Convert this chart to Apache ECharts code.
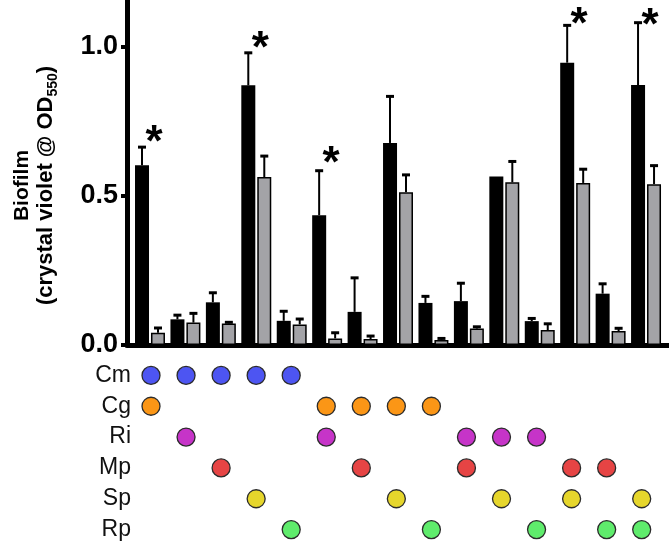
<!DOCTYPE html>
<html>
<head>
<meta charset="utf-8">
<script src="https://cdn.jsdelivr.net/npm/echarts@6/dist/echarts.min.js"></script>
<style>
  html, body { margin: 0; padding: 0; background: #fff; }
  #biofilm-chart { width: 669px; height: 543px; }
</style>
</head>
<body>
<div id="biofilm-chart"></div>
<script>
var strains = ['Cm', 'Cg', 'Ri', 'Mp', 'Sp', 'Rp'];
var strainColors = ['#4d55f2', '#fb9616', '#c634c8', '#e64444', '#e6d62c', '#5fec6c'];

// every co-culture is a pair of strains (index into strains)
var pairFirst  = [0, 0, 0, 0, 0, 1, 1, 1, 1, 2, 2, 2, 3, 3, 4];
var pairSecond = [1, 2, 3, 4, 5, 2, 3, 4, 5, 3, 4, 5, 4, 5, 5];

var blackMean = [0.602, 0.086, 0.143, 0.870, 0.081, 0.435, 0.111, 0.677, 0.141, 0.147, 0.565, 0.080, 0.946, 0.172, 0.871];
var blackSd   = [0.061, 0.014, 0.032, 0.109, 0.032, 0.149, 0.114, 0.156, 0.022, 0.060, 0.000, 0.009, 0.125, 0.033, 0.209];
var greyMean  = [0.041, 0.075, 0.072, 0.563, 0.069, 0.022, 0.020, 0.512, 0.017, 0.055, 0.545, 0.050, 0.543, 0.047, 0.539];
var greySd    = [0.016, 0.031, 0.004, 0.070, 0.018, 0.019, 0.010, 0.058, 0.005, 0.006, 0.070, 0.021, 0.046, 0.009, 0.062];

var starGroups = [0, 3, 5, 12, 14];
var starY      = [0.714, 1.028, 0.643, 1.109, 1.105];

var yTicks = [0, 0.5, 1.0];

var FONT = 'Liberation Sans';

var chartDom = document.getElementById('biofilm-chart');
var myChart = echarts.init(chartDom, null, {renderer: 'canvas'});

function errorBar(params, api) {
    var sd = api.value(2);
    if (sd <= 0) return;
    var side = api.value(3);
    var base = api.coord([api.value(0), api.value(1)]);
    var tip = api.coord([api.value(0), api.value(1) + sd]);
    var x = base[0] + side * 8;
    return {
        type: 'group',
        children: [
            {type: 'line', shape: {x1: x, y1: base[1], x2: x, y2: tip[1]}, style: {stroke: '#000', lineWidth: 2}},
            {type: 'line', shape: {x1: x - 4, y1: tip[1], x2: x + 4, y2: tip[1]}, style: {stroke: '#000', lineWidth: 3}}
        ]
    };
}

function star(params, api) {
    var pt = api.coord([api.value(0), api.value(1)]);
    return {
        type: 'text',
        x: pt[0] + 4,
        y: pt[1] + 12,
        style: {
            text: '*', fill: '#000',
            font: 'bold 44px "' + FONT + '"',
            textAlign: 'center', textVerticalAlign: 'middle'
        }
    };
}

var errData = [];
for (var i = 0; i < blackMean.length; i++) {
    errData.push([i, blackMean[i], blackSd[i], -1]);
    errData.push([i, greyMean[i], greySd[i], 1]);
}

var dotSeries = strains.map(function (name, s) {
    var pts = [];
    for (var i = 0; i < pairFirst.length; i++) {
        if (pairFirst[i] === s || pairSecond[i] === s) pts.push([i, s]);
    }
    return {
        type: 'scatter',
        name: name,
        xAxisIndex: 1,
        yAxisIndex: 1,
        symbolSize: 18,
        itemStyle: {color: strainColors[s], borderColor: '#2b2b2b', borderWidth: 1.3, opacity: 1},
        data: pts
    };
});

var option = {
    animation: false,
    textStyle: {fontFamily: FONT},
    grid: [
        {left: 127, right: 0, top: 0, height: 345, outerBoundsMode: 'none'},
        {left: 140, right: 0, top: 360, height: 185, outerBoundsMode: 'none'}
    ],
    xAxis: [
        {
            type: 'value', gridIndex: 0, min: -0.649, max: 14.648,
            axisLine: {show: true, onZero: false, lineStyle: {color: '#000', width: 5}},
            axisTick: {show: false}, axisLabel: {show: false}, splitLine: {show: false}
        },
        {
            type: 'value', gridIndex: 1, min: -0.314, max: 14.779,
            axisLine: {show: false}, axisTick: {show: false}, axisLabel: {show: false}, splitLine: {show: false}
        }
    ],
    yAxis: [
        {
            type: 'value', gridIndex: 0, min: 0, max: 1.156,
            axisLine: {show: true, onZero: false, lineStyle: {color: '#000', width: 5}},
            axisTick: {show: true, length: 6, customValues: yTicks, lineStyle: {color: '#000', width: 4}},
            axisLabel: {
                customValues: yTicks, margin: 9, fontSize: 27, fontWeight: 'bold', color: '#000',
                fontFamily: FONT,
                formatter: function (v) { return v.toFixed(1); }
            },
            splitLine: {show: false},
            name: '{b|Biofilm}\n{t|(crystal violet @ OD}{s|550}{t|)}',
            nameLocation: 'middle',
            nameRotate: 90,
            nameGap: 67,
            nameTextStyle: {
                padding: [0, 26, 0, 0],
                rich: {
                    b: {fontSize: 21, fontWeight: 'bold', color: '#000', fontFamily: FONT, lineHeight: 20},
                    t: {fontSize: 22, fontWeight: 'bold', color: '#000', fontFamily: FONT, lineHeight: 28},
                    s: {fontSize: 14, fontWeight: 'bold', color: '#000', fontFamily: FONT, lineHeight: 28, verticalAlign: 'bottom'}
                }
            }
        },
        {
            type: 'category', gridIndex: 1, data: strains, inverse: true,
            axisLine: {show: false, onZero: false}, axisTick: {show: false},
            axisLabel: {margin: 9, fontSize: 23, color: '#111', fontFamily: FONT},
            splitLine: {show: false}
        }
    ],
    series: [
        {
            type: 'bar', name: 'black', xAxisIndex: 0, yAxisIndex: 0,
            barWidth: 14, barGap: '14%',
            itemStyle: {color: '#000'},
            data: blackMean.map(function (v, i) { return [i, v]; })
        },
        {
            type: 'bar', name: 'grey', xAxisIndex: 0, yAxisIndex: 0,
            barWidth: 14, barGap: '14%',
            itemStyle: {color: '#a3a3a7', borderColor: '#000', borderWidth: 1.5},
            data: greyMean.map(function (v, i) { return [i, v]; })
        },
        {
            type: 'custom', name: 'sd', xAxisIndex: 0, yAxisIndex: 0,
            renderItem: errorBar, z: 3,
            data: errData
        },
        {
            type: 'custom', name: 'sig', xAxisIndex: 0, yAxisIndex: 0,
            renderItem: star, z: 4, clip: false,
            data: starGroups.map(function (g, k) { return [g, starY[k]]; })
        }
    ].concat(dotSeries)
};

option && myChart.setOption(option);
</script>
</body>
</html>
